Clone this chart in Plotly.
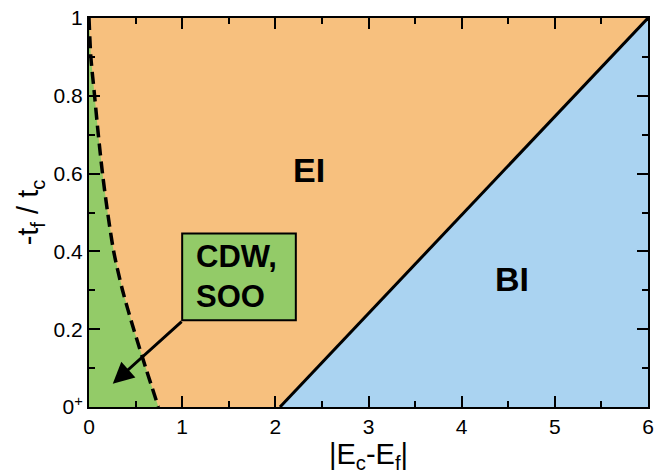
import plotly.graph_objects as go

# Data
cdw_x = [0.0, 0.02, 0.06, 0.10, 0.145, 0.20, 0.265, 0.36, 0.48, 0.61, 0.745]
cdw_y = [1.0, 0.90, 0.80, 0.70, 0.60, 0.50, 0.40, 0.30, 0.20, 0.10, 0.0]
bi_x = [2.05, 6.0]
bi_y = [0.0, 1.0]
x_ticks = [0, 1, 2, 3, 4, 5, 6]
y_ticks = [0, 0.2, 0.4, 0.6, 0.8, 1]
y_ticklabels = ["0<sup>+</sup>", "0.2", "0.4", "0.6", "0.8", "1"]

ORANGE = "#F7C07E"
GREEN = "#93CB68"
BLUE = "#AAD3F1"
FONT = "Liberation Sans"

fig = go.Figure()
# EI background
fig.add_trace(go.Scatter(x=[0, 6, 6, 0], y=[0, 0, 1, 1], fill="toself", fillcolor=ORANGE,
                         mode="none", hoverinfo="skip"))
# CDW region
fig.add_trace(go.Scatter(x=cdw_x + [0], y=cdw_y + [0], fill="toself", fillcolor=GREEN,
                         mode="none", hoverinfo="skip"))
# BI region
fig.add_trace(go.Scatter(x=bi_x + [bi_x[1]], y=bi_y + [0], fill="toself", fillcolor=BLUE,
                         mode="none", hoverinfo="skip"))
# boundaries
fig.add_trace(go.Scatter(x=cdw_x, y=cdw_y, mode="lines",
                         line=dict(color="black", width=3.5, dash="12px,6px", shape="spline", smoothing=0.8)))
fig.add_trace(go.Scatter(x=bi_x, y=bi_y, mode="lines", line=dict(color="black", width=3)))

# CDW box
fig.add_shape(type="rect", x0=1.0, x1=2.22, y0=0.223, y1=0.446, xref="x", yref="y",
              fillcolor=GREEN, line=dict(color="black", width=2))
fig.add_annotation(x=1.13, y=0.335, xref="x", yref="y", text="<b>CDW,<br>SOO</b>",
                   showarrow=False, xanchor="left", align="left",
                   font=dict(family=FONT, size=31, color="black"))
# arrow
fig.add_annotation(x=0.255, y=0.06, ax=1.01, ay=0.223, xref="x", yref="y", axref="x", ayref="y",
                   text="", showarrow=True, arrowhead=2, arrowsize=1.4, arrowwidth=3,
                   arrowcolor="black")
fig.add_annotation(x=2.36, y=0.61, text="<b>EI</b>", showarrow=False,
                   font=dict(family=FONT, size=34, color="black"))
fig.add_annotation(x=4.54, y=0.33, text="<b>BI</b>", showarrow=False,
                   font=dict(family=FONT, size=34, color="black"))

axis_common = dict(showline=True, linecolor="black", linewidth=2, mirror="ticks",
                   ticks="inside", ticklen=11, tickwidth=1.5, tickcolor="black",
                   showgrid=False, zeroline=False,
                   tickfont=dict(family=FONT, size=21, color="black"))
fig.update_xaxes(range=[0, 6], tickvals=x_ticks,
                 minor=dict(dtick=0.5, ticks="inside", ticklen=6, tickwidth=1.5, tickcolor="black", showgrid=False),
                 title=dict(text="|E<sub>c</sub>-E<sub>f</sub>|", font=dict(family=FONT, size=29, color="black"), standoff=4),
                 **axis_common)
fig.update_yaxes(range=[0, 1], tickvals=y_ticks, ticktext=y_ticklabels,
                 minor=dict(dtick=0.1, ticks="inside", ticklen=6, tickwidth=1.5, tickcolor="black", showgrid=False),
                 title=dict(text="-t<sub>f</sub> / t<sub>c</sub>", font=dict(family=FONT, size=29, color="black"), standoff=6),
                 **axis_common)
fig.update_layout(width=660, height=474, margin=dict(l=89, r=6, t=13, b=67),
                  plot_bgcolor="white", paper_bgcolor="white", showlegend=False)
fig.write_html("out.html")
